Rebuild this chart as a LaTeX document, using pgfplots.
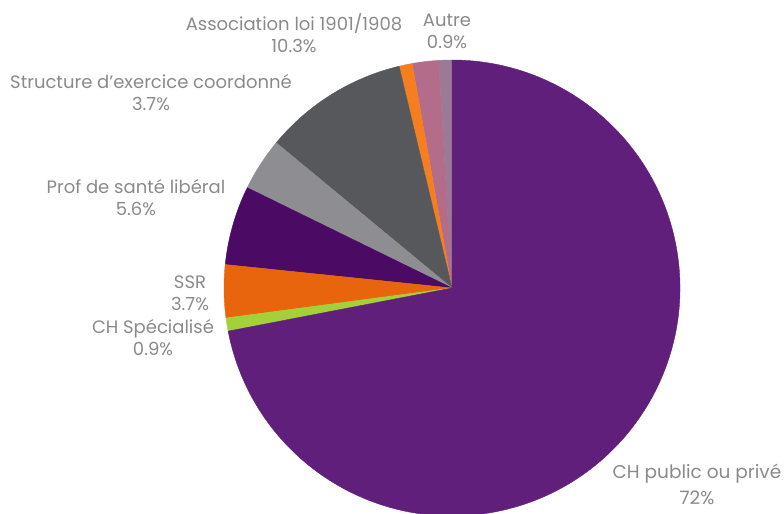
\documentclass[border=0pt]{standalone}
\usepackage{pgfplots}
\usepackage{pgfplotstable}
\pgfplotsset{compat=1.18}
\usepackage{fontspec}
\setmainfont{Poppins}
\definecolor{cPub}{HTML}{611F7C}
\definecolor{cSpe}{HTML}{A4D13A}
\definecolor{cSSR}{HTML}{E8650E}
\definecolor{cProf}{HTML}{4B0A63}
\definecolor{cStruc}{HTML}{8E8E92}
\definecolor{cAsso}{HTML}{57585C}
\definecolor{cOra}{HTML}{F57F20}
\definecolor{cPink}{HTML}{B36C8A}
\definecolor{cAut}{HTML}{9A7A94}
\definecolor{lab}{HTML}{8A8A8A}
% slices counter-clockwise from 12 o'clock (percent)
\pgfplotstableread{
name v c
Autre 0.93 cAut
X1 1.87 cPink
X2 0.93 cOra
Association 10.28 cAsso
Structure 3.74 cStruc
Prof 5.61 cProf
SSR 3.74 cSSR
CHSpe 0.93 cSpe
CHPub 71.96 cPub
}\pietable
\begin{document}
\begin{tikzpicture}
\useasboundingbox (0,0) rectangle (784bp,514bp);
\begin{axis}[
  at={(0,0)}, anchor=origin,
  x=1bp, y=1bp,
  xmin=0, xmax=784, ymin=0, ymax=514,
  hide axis, clip=false,
]
\pgfplotstablegetrowsof{\pietable}
\pgfmathtruncatemacro\N{\pgfplotsretval-1}
\def\cumangle{90}
\pgfplotsforeachungrouped \i in {0,...,\N}{%
  \pgfplotstablegetelem{\i}{v}\of\pietable \let\v\pgfplotsretval
  \pgfplotstablegetelem{\i}{c}\of\pietable \let\c\pgfplotsretval
  \pgfmathsetmacro\endangle{\cumangle+\v*3.6}%
  \edef\temp{\noexpand\filldraw[fill=\c, draw=\c, line width=0.4bp, line join=round] (axis cs:452,226) -- ++(\cumangle:228bp) arc[start angle=\cumangle, end angle=\endangle, radius=228bp] -- cycle;}%
  \temp
  \global\let\cumangle\endangle
}
\tikzset{lbl/.style={text=lab, align=center, font=\fontsize{18bp}{22bp}\selectfont, inner sep=0pt}}
\node[lbl] at (axis cs:294,481) {Association loi 1901/1908\\10.3\%};
\node[lbl] at (axis cs:447,483) {Autre\\0.9\%};
\node[lbl] at (axis cs:151,421) {Structure d{\char"0027}exercice coordonné\\3.7\%};
\node[lbl] at (axis cs:136,316) {Prof de santé libéral\\5.6\%};
\node[lbl] at (axis cs:190,221) {SSR\\3.7\%};
\node[lbl] at (axis cs:153,176) {CH Spécialisé\\0.9\%};
\node[lbl, font=\fontsize{18.5bp}{26bp}\selectfont] at (axis cs:697,30) {CH public ou privé\\72\%};
\end{axis}
\end{tikzpicture}
\end{document}
